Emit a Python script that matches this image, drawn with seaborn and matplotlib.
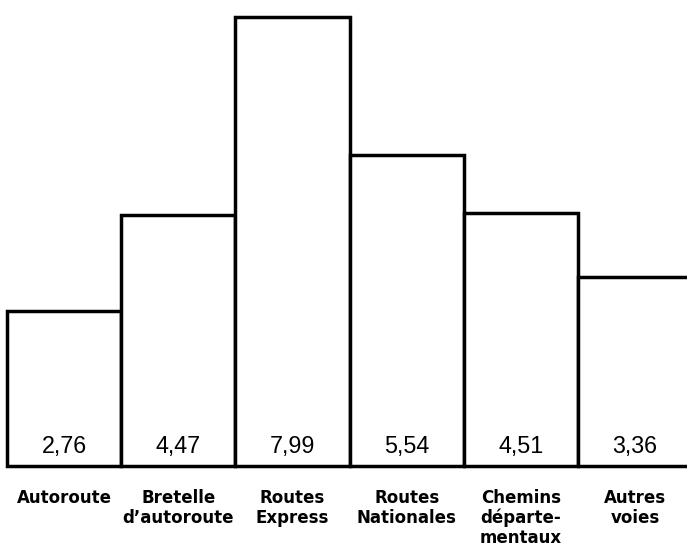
import matplotlib
matplotlib.use("Agg")
import matplotlib.pyplot as plt
import seaborn as sns
import pandas as pd

categories = ["Autoroute", "Bretelle\nd\u2019autoroute", "Routes\nExpress",
              "Routes\nNationales", "Chemins\ndéparte-\nmentaux", "Autres\nvoies"]
values = [2.76, 4.47, 7.99, 5.54, 4.51, 3.36]
value_labels = ["2,76", "4,47", "7,99", "5,54", "4,51", "3,36"]

sns.set_style("white")

W, H = 687, 549
fig = plt.figure(figsize=(W / 100, H / 100), dpi=100)
ax = fig.add_axes([0, 0, 1, 1])

df = pd.DataFrame({"cat": categories, "val": values})
sns.barplot(data=df, x="cat", y="val", ax=ax, color="white", saturation=1,
            edgecolor="black", linewidth=2.5, width=1.0, errorbar=None)

px_per_unit_y = 56.2
px_per_unit_x = 114.2
ymin = -(H - 466) / px_per_unit_y
ax.set_ylim(ymin, ymin + H / px_per_unit_y)
xmin = -0.5 - 7 / px_per_unit_x
ax.set_xlim(xmin, xmin + W / px_per_unit_x)
ax.axis("off")

for i, lab in enumerate(value_labels):
    ax.text(i, 13 / px_per_unit_y, lab, ha="center", va="baseline",
            fontsize=16.8, family="Liberation Sans", color="black")

for i, cat in enumerate(categories):
    for j, line in enumerate(cat.split("\n")):
        y_px = 503 + 20 * j
        ax.text(i, -(y_px - 466) / px_per_unit_y, line, ha="center",
                va="baseline", fontsize=12, family="DejaVu Sans",
                fontweight="bold", color="black")

fig.savefig("out.png", dpi=100)
